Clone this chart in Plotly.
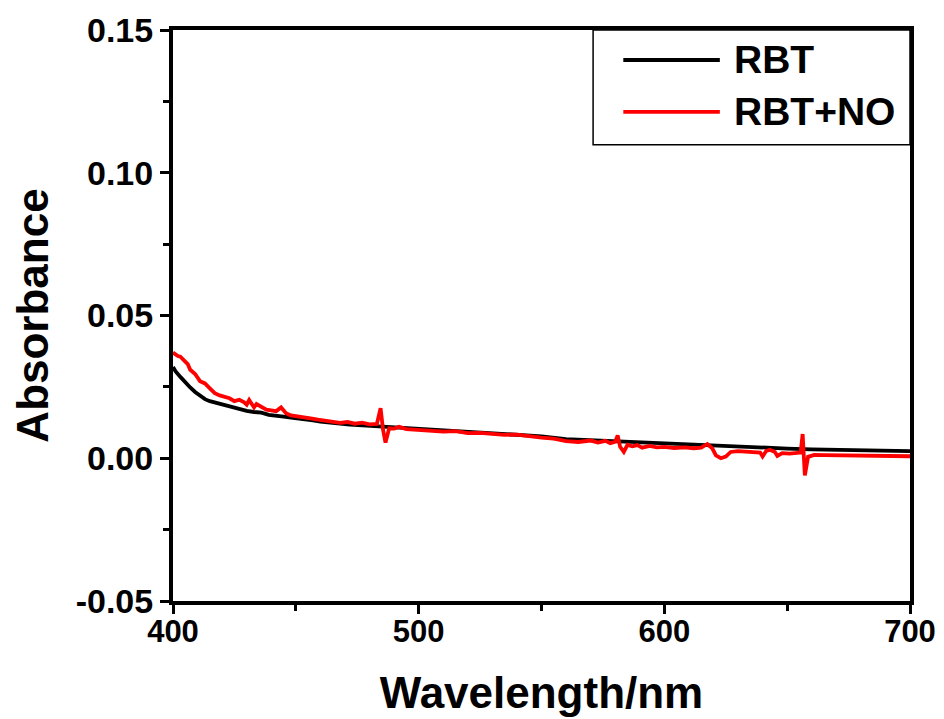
import plotly.graph_objects as go

# RBT (black)
wl_rbt = [400, 401, 403, 405, 407, 409, 411, 413, 415,
          418, 421, 424, 427, 430, 433, 436, 439, 442, 445, 448, 451, 454, 457, 460,
          464, 468, 472, 476, 480, 485, 490, 495, 500,
          510, 520, 530, 540, 550, 560, 570, 580, 590, 600,
          610, 620, 630, 640, 650, 660, 670, 680, 690, 700]
abs_rbt = [0.0320, 0.0305, 0.0285, 0.0265, 0.0248, 0.0232, 0.0218, 0.0207, 0.0200,
           0.0193, 0.0187, 0.0180, 0.0172, 0.0166, 0.0162, 0.0160, 0.0152, 0.0150, 0.0146, 0.0142, 0.0140, 0.0136, 0.0133, 0.0128,
           0.0126, 0.0121, 0.0118, 0.0116, 0.0113, 0.0110, 0.0107, 0.0104, 0.0101,
           0.0097, 0.0093, 0.0089, 0.0084, 0.0077, 0.0067, 0.0063, 0.0059, 0.0055, 0.0052,
           0.0047, 0.0044, 0.0041, 0.0037, 0.0034, 0.0031, 0.0029, 0.0028, 0.0027, 0.0025]

# RBT+NO (red)
wl_no = [400, 401, 402, 403, 404, 406, 407, 409, 411, 413,
         415, 417, 419, 421, 423, 425, 427, 429, 430, 431,
         433, 434, 436, 438, 440, 442, 444, 446, 448, 450,
         453, 456, 459, 462, 465, 468, 471, 474, 477, 480,
         483, 484.5, 485.5, 486.5, 488, 490, 492, 495, 498, 501,
         505, 510, 515, 520, 525, 530, 535, 540, 545, 550,
         555, 560, 565, 570, 573, 576, 578, 580, 581, 582,
         583.5, 585, 587, 589, 591, 594, 597, 600, 604, 608,
         612, 615, 617.5, 619.5, 621, 623, 625, 627, 630, 633,
         636, 639, 640, 641.5, 643, 645, 646, 648, 651, 654,
         655.5, 656.3, 657.2, 658.5, 661, 665, 670, 675, 680, 685,
         690, 695, 700]
abs_no = [0.0370, 0.0362, 0.0358, 0.0356, 0.0348, 0.0330, 0.0310, 0.0295, 0.0270, 0.0262,
          0.0245, 0.0228, 0.0220, 0.0214, 0.0210, 0.0200, 0.0205, 0.0196, 0.0188, 0.0204,
          0.0178, 0.0190, 0.0178, 0.0170, 0.0168, 0.0165, 0.0178, 0.0158, 0.0150, 0.0148,
          0.0143, 0.0140, 0.0135, 0.0131, 0.0128, 0.0124, 0.0127, 0.0121, 0.0125, 0.0119,
          0.0120, 0.0175, 0.0100, 0.0055, 0.0105, 0.0104, 0.0110, 0.0102, 0.0100, 0.0098,
          0.0096, 0.0093, 0.0095, 0.0088, 0.0089, 0.0085, 0.0082, 0.0083, 0.0077, 0.0072,
          0.0069, 0.0060, 0.0057, 0.0062, 0.0055, 0.0061, 0.0053, 0.0058, 0.0080, 0.0040,
          0.0022, 0.0047, 0.0042, 0.0046, 0.0037, 0.0043, 0.0038, 0.0040, 0.0036, 0.0038,
          0.0035, 0.0037, 0.0050, 0.0035, 0.0010, 0.0000, 0.0006, 0.0022, 0.0025, 0.0023,
          0.0021, 0.0020, 0.0006, 0.0026, 0.0030, 0.0022, 0.0008, 0.0018, 0.0016, 0.0017,
          0.0020, 0.0085, -0.0060, 0.0005, 0.0012, 0.0011, 0.0010, 0.0010, 0.0009, 0.0009,
          0.0008, 0.0008, 0.0007]

x_ticks = [400, 500, 600, 700]
y_ticks = [-0.05, 0.00, 0.05, 0.10, 0.15]
y_ticktext = ["-0.05", "0.00", "0.05", "0.10", "0.15"]
legend_names = ["RBT", "RBT+NO"]
colors = ["black", "red"]

FONT = "Liberation Sans, Arial, sans-serif"

fig = go.Figure()
fig.add_trace(go.Scatter(x=wl_rbt, y=abs_rbt, mode="lines", name=legend_names[0],
                         line=dict(color=colors[0], width=3.8)))
fig.add_trace(go.Scatter(x=wl_no, y=abs_no, mode="lines", name=legend_names[1],
                         line=dict(color=colors[1], width=3.8)))

axis_common = dict(
    showgrid=False, zeroline=False, automargin=False,
    showline=True, linecolor="black", linewidth=4, mirror=True,
    ticks="outside", ticklen=9, tickwidth=3, tickcolor="black",
)

fig.update_xaxes(
    range=[400, 700], tickvals=x_ticks, ticklabelstandoff=-9,
    tickfont=dict(family=FONT, size=31, color="black", weight="bold"),
    minor=dict(ticks="outside", ticklen=6, tickwidth=3, tickcolor="black", dtick=50, tick0=400),
    title=dict(text="Wavelength/nm", standoff=30,
               font=dict(family=FONT, size=44, color="black", weight="bold")),
    **axis_common,
)
fig.update_yaxes(
    range=[-0.05, 0.15], tickvals=y_ticks, ticktext=y_ticktext,
    tickfont=dict(family=FONT, size=34, color="black", weight="bold"),
    minor=dict(ticks="outside", ticklen=6, tickwidth=3, tickcolor="black", dtick=0.025, tick0=0),
    title=dict(text="Absorbance", standoff=26,
               font=dict(family=FONT, size=44, color="black", weight="bold")),
    **axis_common,
)

# legend box drawn by hand so the line samples are long like the original
fig.add_shape(type="rect", xref="paper", yref="paper", x0=0.570, x1=1.0, y0=0.799, y1=1.0,
              line=dict(color="black", width=1.5), fillcolor="white", layer="above")
for i, (name, col) in enumerate(zip(legend_names, colors)):
    yy = 0.9475 - i * 0.091
    fig.add_shape(type="line", xref="paper", yref="paper", x0=0.611, x1=0.742, y0=yy, y1=yy,
                  line=dict(color=col, width=3.8), layer="above")
    fig.add_annotation(xref="paper", yref="paper", x=0.758, y=yy, text=name, showarrow=False,
                       xanchor="left", yanchor="middle",
                       font=dict(family=FONT, size=39, color="black", weight="bold"))

# page body adds ~8px offset, so figure is shrunk and margins shifted to match
fig.update_layout(
    width=936, height=711,
    margin=dict(l=165, r=34, t=22, b=118),
    paper_bgcolor="white", plot_bgcolor="white",
    showlegend=False,
)

fig.write_html("out.html")
